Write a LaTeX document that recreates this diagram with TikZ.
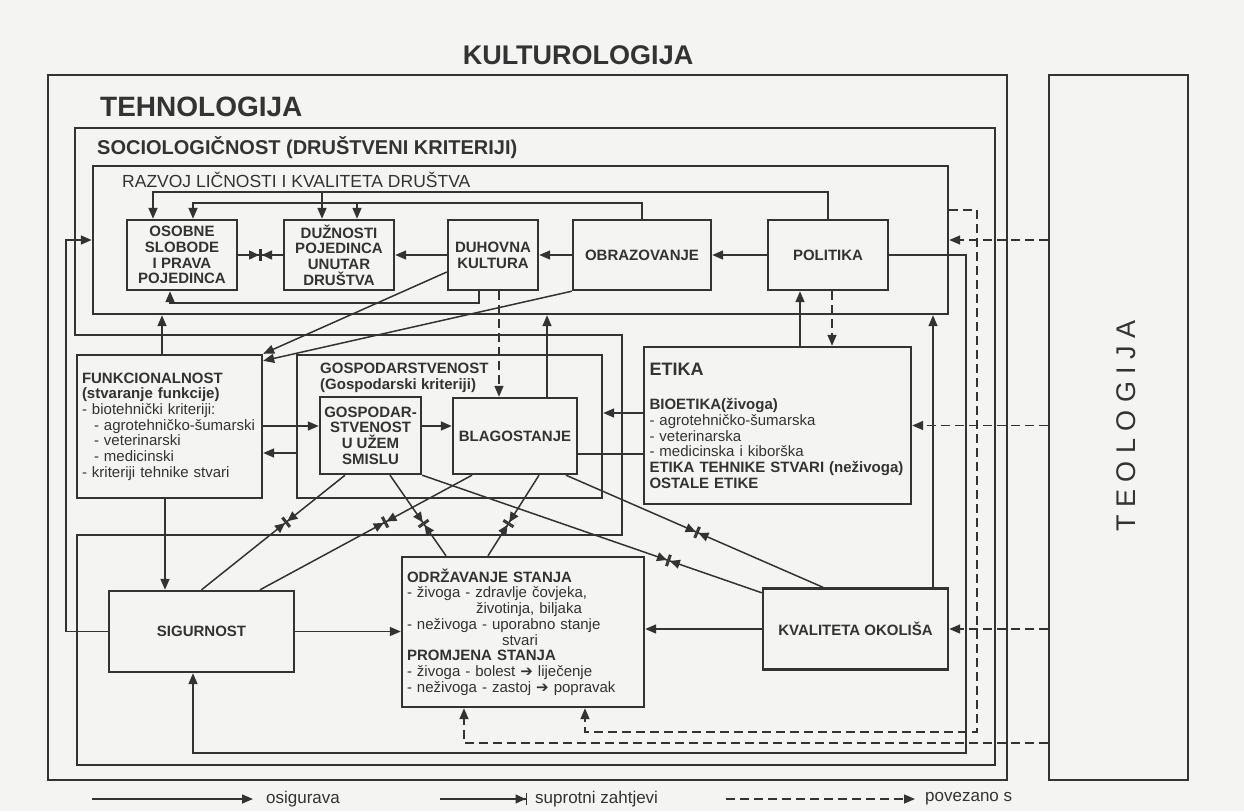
\documentclass[tikz,border=0pt]{standalone}
\usepackage{fontspec}
\setmainfont{Liberation Sans}
\newfontfamily\strelicafont{DejaVu Sans}
\usetikzlibrary{arrows.meta, positioning, calc}
\definecolor{ink}{HTML}{333333}
\definecolor{paper}{HTML}{F4F4F2}

\begin{document}
\begin{tikzpicture}[x=1pt, y=-1pt,
  okvir/.style={draw=ink, line width=2.4pt},
  blok/.style={okvir, align=center, font=\bfseries\fontsize{15}{15.7}\selectfont, text=ink, inner sep=3pt},
  opis/.style={align=left, text=ink, inner sep=0pt},
  naslov/.style={font=\bfseries, text=ink, inner sep=0pt},
  veza/.style={draw=ink, line width=1.5pt, -{Triangle[length=11pt,width=9pt]}},
  povez/.style={veza, dash pattern=on 9pt off 5pt},
  suprot/.style={draw=ink, line width=1.5pt, -{Triangle[length=10pt,width=9pt] Bar[width=12pt,line width=1.5pt]}},
  linija/.style={draw=ink, line width=1.5pt},
]
\fill[paper] (0,0) rectangle (1244,811);
\useasboundingbox (0,0) rectangle (1244,811);

% outer frames
\node[naslov, font=\bfseries\fontsize{27}{27}\selectfont] (kult) at (578,55) {KULTUROLOGIJA};
\node[okvir, minimum width=959pt, minimum height=705pt] (tehn) at (527.5,427.5) {};
\node[naslov, anchor=west, font=\bfseries\fontsize{28}{28}\selectfont] (tehnlbl) at (100,107) {TEHNOLOGIJA};
\node[okvir, minimum width=139pt, minimum height=705pt] (teol) at (1118.5,427.5) {};
\node[naslov, rotate=90, font=\fontsize{27}{27}\selectfont] (teollbl) at (1126,426) {T E O L O G I J A};

\draw[okvir] (75,128) -- (995,128) -- (995,765) -- (77,765) -- (77,535) -- (622,535) -- (622,335) -- (75,335) -- cycle;
\node[naslov, anchor=west, font=\bfseries\fontsize{20}{20}\selectfont] (soclbl) at (97,148) {SOCIOLOGIČNOST (DRUŠTVENI KRITERIJI)};

% razvoj licnosti
\node[okvir, minimum width=855pt, minimum height=148pt] (razvoj) at (520.5,240) {};
\node[naslov, anchor=west, font=\fontsize{17.5}{17.5}\selectfont] (razvojlbl) at (122,180) {RAZVOJ LIČNOSTI I KVALITETA DRUŠTVA};
\node[blok, minimum width=110pt, minimum height=70pt] (osobne) at (182,255) {OSOBNE\\SLOBODE\\I PRAVA\\POJEDINCA};
\node[blok, minimum width=110pt, minimum height=70pt] (duznosti) at (339,255) {DUŽNOSTI\\POJEDINCA\\UNUTAR\\DRUŠTVA};
\node[blok, minimum width=90pt, minimum height=70pt] (duhovna) at (493,255) {DUHOVNA\\KULTURA};
\node[blok, minimum width=138pt, minimum height=70pt] (obrazovanje) at (642,255) {OBRAZOVANJE};
\node[blok, minimum width=120pt, minimum height=70pt] (politika) at (828,255) {POLITIKA};

% middle row
\node[blok, align=left, text width=175pt, inner xsep=5pt, minimum height=143pt] (funkc) at (169.5,426.5)
  {FUNKCIONALNOST\\(stvaranje funkcije)\\\mdseries - biotehnički kriteriji:\\\hspace*{12pt}- agrotehničko-šumarski\\\hspace*{12pt}- veterinarski\\\hspace*{12pt}- medicinski\\- kriteriji tehnike stvari};
\node[okvir, minimum width=305pt, minimum height=143pt] (gosp) at (449.5,426.5) {};
\node[opis, anchor=north west, font=\bfseries\fontsize{15}{15.5}\selectfont] (gosplbl) at (320,363) {GOSPODARSTVENOST\\(Gospodarski kriteriji)};
\node[blok, minimum width=101pt, minimum height=77pt, inner sep=1pt] (gus) at (370.5,435.5) {GOSPODAR-\\STVENOST\\U UŽEM\\SMISLU};
\node[blok, minimum width=124pt, minimum height=76pt] (blag) at (515,436) {BLAGOSTANJE};
\node[blok, align=left, text width=256pt, inner xsep=5.5pt, minimum height=157pt] (etika) at (777.5,425.5)
  {{\fontsize{18}{18}\selectfont ETIKA}\\[19pt]BIOETIKA(živoga)\\\mdseries - agrotehničko-šumarska\\- veterinarska\\- medicinska i kiborška\\\bfseries ETIKA TEHNIKE STVARI (neživoga)\\OSTALE ETIKE};

% lower row
\node[blok, minimum width=185pt, minimum height=81pt] (sigurnost) at (201.5,631.5) {SIGURNOST};
\node[blok, align=left, text width=232pt, inner xsep=5pt, minimum height=150pt] (odrz) at (523,632)
  {ODRŽAVANJE STANJA\\\mdseries - živoga - zdravlje čovjeka,\\\hspace*{69pt}životinja, biljaka\\- neživoga - uporabno stanje\\\hspace*{95pt}stvari\\\bfseries PROMJENA STANJA\\\mdseries - živoga - bolest {\strelicafont ➔} liječenje\\- neživoga - zastoj {\strelicafont ➔} popravak};
\node[blok, minimum width=185pt, minimum height=81pt] (kvaliteta) at (855.5,629) {KVALITETA OKOLIŠA};

% connectors inside razvoj
\draw[veza] (politika.north) |- (153,192) -- (153,192 |- osobne.north);
\coordinate (p1) at (322,192);
\draw[veza] (p1) -- (p1 |- duznosti.north);
\draw[veza] (obrazovanje.north) |- (193,203) -- (193,203 |- osobne.north);
\coordinate (p2) at (357,203);
\draw[veza] (p2) -- (p2 |- duznosti.north);
\coordinate (d1) at ([xshift=-14pt]duhovna.south);
\draw[veza] (d1) |- (170,303) -- (170,303 |- osobne.south);
\draw[veza] (duhovna.west) -- (duznosti.east);
\draw[veza] (obrazovanje.west) -- (duhovna.east);
\draw[veza] (politika.west) -- (obrazovanje.east);
\coordinate (os) at ($(osobne.east)!0.5!(duznosti.west)$);
\draw[suprot] (osobne.east) -- (os);
\draw[suprot] (duznosti.west) -- (os);

% connectors between levels
\draw[veza] (sigurnost.west) -| (66,240) -- (razvoj.west);
\coordinate (f1) at ([xshift=-7.5pt]funkc.north);
\draw[veza] (f1) -- (f1 |- razvoj.south);
\coordinate (f2) at ([xshift=-4.5pt]funkc.south);
\draw[veza] (f2) -- (f2 |- sigurnost.north);
\draw[veza] ([yshift=-17pt]duhovna.west) -- (funkc.north east);
\draw[veza] (obrazovanje.south west) -- ([yshift=-7pt]funkc.north east);
\coordinate (b0) at ([xshift=32pt]blag.north);
\draw[veza] (b0) -- (b0 |- razvoj.south);
\coordinate (d2) at ([xshift=6pt]duhovna.south);
\draw[povez] (d2) -- (d2 |- blag.north);
\coordinate (p3) at ([xshift=4pt]politika.south);
\draw[povez] (p3) -- (p3 |- etika.north);
\coordinate (e1) at ([xshift=-28pt]politika.south);
\draw[veza] (e1 |- etika.north) -- (e1);
\coordinate (k0) at ([xshift=77.5pt]kvaliteta.north);
\draw[veza] (k0) -- (k0 |- razvoj.south);
\coordinate (fg) at ([yshift=9.5pt]gus.west);
\draw[veza] (fg -| funkc.east) -- (fg);
\draw[veza] (fg -| gus.east) -- (fg -| blag.west);
\draw[veza] (gosp.west |- 0,453) -- (funkc.east |- 0,453);
\draw[veza] (etika.west |- 0,413) -- (gosp.east |- 0,413);
\draw[linija] (blag.east |- 0,454) -- (etika.west |- 0,454);
\draw[veza] (politika.east) -| (966,753) -| ([xshift=-8.5pt]sigurnost.south);
\draw[veza] (sigurnost.east) -- (sigurnost.east -| odrz.west);
\draw[veza] (kvaliteta.west) -- (kvaliteta.west -| odrz.east);

% teologija links
\draw[povez] (razvoj.east -| teol.west) -- (razvoj.east);
\draw[povez] (etika.east -| teol.west) -- (etika.east);
\draw[povez] (kvaliteta.east -| teol.west) -- (kvaliteta.east);
\coordinate (o3) at ([xshift=-59pt]odrz.south);
\draw[povez] (teol.west |- 0,743) -| (o3);
\coordinate (o4) at ([xshift=62pt]odrz.south);
\draw[povez] ([yshift=30pt]razvoj.east) -| (977,732) -| (o4);

% opposing requirements
\coordinate (g1) at ([xshift=-25.5pt]gus.south);
\coordinate (s1) at (sigurnost.north);
\coordinate (b1) at ([xshift=-43pt]blag.south);
\coordinate (s2) at ([xshift=58.5pt]sigurnost.north);
\coordinate (g2) at ([xshift=19.5pt]gus.south);
\coordinate (o1) at ([xshift=-77pt]odrz.north);
\coordinate (b2) at ([xshift=24pt]blag.south);
\coordinate (o2) at ([xshift=-35pt]odrz.north);
\coordinate (g3) at (gus.south east);
\coordinate (k1) at ([yshift=-5.5pt]kvaliteta.north west);
\coordinate (b3) at ([xshift=51pt]blag.south);
\coordinate (k2) at ([xshift=-32.5pt]kvaliteta.north);
\coordinate (m1) at ($(g1)!0.41!(s1)$);
\coordinate (m2) at ($(b1)!0.41!(s2)$);
\coordinate (m3) at ($(g2)!0.6!(o1)$);
\coordinate (m4) at ($(b2)!0.6!(o2)$);
\coordinate (m5) at ($(g3)!0.725!(k1)$);
\coordinate (m6) at ($(b3)!0.51!(k2)$);
\draw[suprot] (g1) -- (m1); \draw[suprot] (s1) -- (m1);
\draw[suprot] (b1) -- (m2); \draw[suprot] (s2) -- (m2);
\draw[suprot] (g2) -- (m3); \draw[suprot] (o1) -- (m3);
\draw[suprot] (b2) -- (m4); \draw[suprot] (o2) -- (m4);
\draw[suprot] (g3) -- (m5); \draw[suprot] (k1) -- (m5);
\draw[suprot] (b3) -- (m6); \draw[suprot] (k2) -- (m6);

% legend
\coordinate (leg1s) at (92,799);
\node[opis, anchor=west, font=\fontsize{17}{17}\selectfont] (leg1) at (266,799) {osigurava};
\draw[veza] (leg1s) -- ([xshift=-13pt]leg1.west);
\coordinate (leg2s) at (440,799);
\node[opis, anchor=west, font=\fontsize{17}{17}\selectfont] (leg2) at (535,799) {suprotni zahtjevi};
\draw[suprot] (leg2s) -- ([xshift=-8pt]leg2.west);
\coordinate (leg3s) at (726,799);
\node[opis, anchor=west, font=\fontsize{17}{17}\selectfont] (leg3) at (925,799) {povezano s};
\draw[povez] (leg3s) -- ([xshift=-10pt]leg3.west);

\end{tikzpicture}
\end{document}
